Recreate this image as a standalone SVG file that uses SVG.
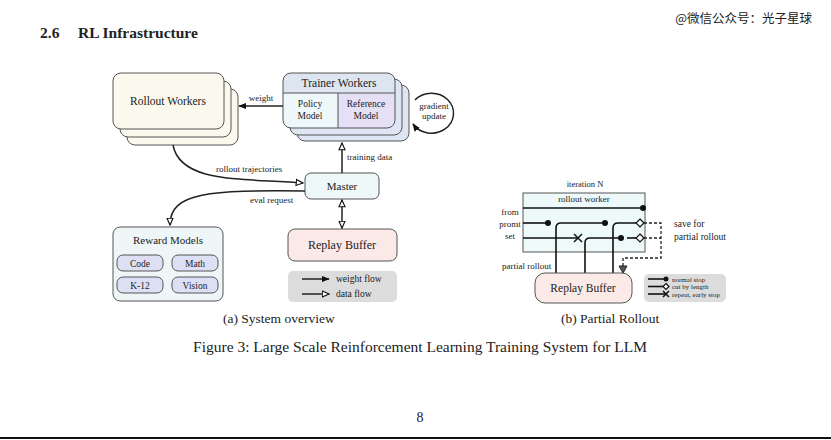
<svg xmlns="http://www.w3.org/2000/svg" width="831" height="440" viewBox="0 0 831 440">
<defs>
<style>
text{font-family:"Liberation Serif","Times New Roman",serif;fill:#222}
.box{stroke:#555;stroke-width:1}
.c{text-anchor:middle}
.conn{fill:none;stroke:#222;stroke-width:1.5}
.pl{fill:none;stroke:#111;stroke-width:1.6}
.dash{fill:none;stroke:#222;stroke-width:1.3;stroke-dasharray:3 2}
.dot{fill:#111}
.dia{fill:#fff;stroke:#111;stroke-width:1.2}
.xm{stroke:#111;stroke-width:1.5}
</style>
<marker id="af" viewBox="0 0 10 10" refX="9" refY="5" markerWidth="8" markerHeight="8" markerUnits="userSpaceOnUse" orient="auto"><path d="M0,1 L10,5 L0,9 z" fill="#111"/></marker>
<marker id="ah" viewBox="0 0 12 12" refX="10" refY="6" markerWidth="9" markerHeight="9" markerUnits="userSpaceOnUse" orient="auto-start-reverse"><path d="M1,2 L10,6 L1,10 z" fill="#fff" stroke="#111" stroke-width="1.5"/></marker>
</defs>
<rect width="831" height="440" fill="#fff"/>

<g id="header">
<text x="40" y="38" font-size="15.5" font-weight="bold">2.6</text>
<text x="78" y="38" font-size="15.5" font-weight="bold">RL Infrastructure</text>
<text x="812" y="23" font-size="12.5" text-anchor="end" style="font-family:'Noto Sans CJK SC',sans-serif" fill="#444">@微信公众号：光子星球</text>
</g>

<g id="rollout-workers">
<rect class="box" x="127" y="89" width="111" height="56" rx="8" fill="#fbf9ee"/>
<rect class="box" x="120" y="81" width="111" height="56" rx="8" fill="#fbf9ee"/>
<rect class="box" x="113" y="73" width="111" height="56" rx="8" fill="#fbf9ee"/>
<text class="c" x="168" y="105" font-size="11.5">Rollout Workers</text>
</g>

<g id="trainer-workers">
<rect class="box" x="297" y="85" width="112" height="56" rx="8" fill="#dde6f2"/>
<rect class="box" x="290" y="79" width="112" height="56" rx="8" fill="#dde6f2"/>
<path d="M338 93 H387 Q395 93 395 101 V120 Q395 128 387 128 H338 Z" fill="#e6e0f6"/>
<path d="M338 93 H283 V120 Q283 128 291 128 H338 Z" fill="#eef7f9"/>
<path d="M283 93 V81 Q283 73 291 73 H387 Q395 73 395 81 V93 Z" fill="#dde6f0"/>
<rect class="box" x="283" y="73" width="112" height="55" rx="8" fill="none"/>
<line x1="283" y1="93" x2="395" y2="93" stroke="#555"/>
<line x1="338" y1="93" x2="338" y2="128" stroke="#555"/>
<text class="c" x="339" y="87" font-size="11.5">Trainer Workers</text>
<text class="c" x="310" y="107" font-size="9.5">Policy</text>
<text class="c" x="310" y="119" font-size="9.5">Model</text>
<text class="c" x="366" y="107" font-size="9.5">Reference</text>
<text class="c" x="366" y="119" font-size="9.5">Model</text>
</g>

<g id="gradient-update">
<path class="conn" d="M415 100 A22 20 0 1 1 413 124" marker-end="url(#af)"/>
<text class="c" x="434" y="109" font-size="9">gradient</text>
<text class="c" x="434" y="119" font-size="9">update</text>
</g>

<g id="master">
<rect class="box" x="305" y="173" width="74" height="26" rx="6" fill="#eef8f8"/>
<text class="c" x="342" y="190" font-size="11">Master</text>
</g>

<g id="reward-models">
<rect class="box" x="113" y="227" width="110" height="74" rx="7" fill="#eef6f8"/>
<text class="c" x="168" y="244" font-size="11">Reward Models</text>
<rect class="box" x="117" y="255" width="46" height="16" rx="6" fill="#dde0f4"/>
<rect class="box" x="172" y="255" width="46" height="16" rx="6" fill="#dde0f4"/>
<rect class="box" x="117" y="277" width="46" height="16" rx="6" fill="#dde0f4"/>
<rect class="box" x="172" y="277" width="46" height="16" rx="6" fill="#dde0f4"/>
<text class="c" x="140" y="267" font-size="9.5">Code</text>
<text class="c" x="195" y="267" font-size="9.5">Math</text>
<text class="c" x="140" y="289" font-size="9.5">K-12</text>
<text class="c" x="195" y="289" font-size="9.5">Vision</text>
</g>

<g id="replay-buffer-a">
<rect class="box" x="288" y="229" width="109" height="32" rx="7" fill="#fbe9e7"/>
<text class="c" x="342" y="249" font-size="12">Replay Buffer</text>
</g>

<g id="legend-a">
<rect x="288" y="271" width="109" height="31" rx="5" fill="#dcdcdc"/>
<line class="conn" x1="302" y1="279" x2="329" y2="279" marker-end="url(#af)"/>
<line class="conn" x1="302" y1="294" x2="329" y2="294" marker-end="url(#ah)"/>
<text x="336" y="282" font-size="9.5">weight flow</text>
<text x="336" y="297" font-size="9.5">data flow</text>
</g>

<g id="connectors">
<line class="conn" x1="283" y1="106" x2="239" y2="106" marker-end="url(#af)"/>
<text class="c" x="261" y="101" font-size="9">weight</text>
<line class="conn" x1="342" y1="173" x2="342" y2="143" marker-end="url(#ah)"/>
<text x="347" y="160" font-size="9">training data</text>
<path class="conn" d="M173 145 C180 184 245 178 303 183" marker-end="url(#ah)"/>
<text x="216" y="172" font-size="9">rollout trajectories</text>
<path class="conn" d="M305 191 C210 190 170 192 170 225" marker-end="url(#ah)"/>
<text x="250" y="203" font-size="9">eval request</text>
<line class="conn" x1="342" y1="200" x2="342" y2="228" marker-start="url(#ah)" marker-end="url(#ah)"/>
</g>

<g id="partial-rollout">
<text class="c" x="585" y="187" font-size="8.5">iteration N</text>
<rect class="box" x="523" y="193" width="122" height="59" fill="#eef9fa"/>
<text class="c" x="584" y="202" font-size="9">rollout worker</text>
<text class="c" x="510" y="215" font-size="9">from</text>
<text class="c" x="510" y="227" font-size="9">promt</text>
<text class="c" x="510" y="239" font-size="9">set</text>
<line class="pl" x1="523" y1="208" x2="643" y2="208"/>
<circle class="dot" cx="643" cy="208" r="3"/>
<line class="pl" x1="523" y1="223" x2="548" y2="223"/>
<circle class="dot" cx="548" cy="223" r="3"/>
<path class="pl" d="M556 274 V228 Q556 223 561 223 H605"/>
<circle class="dot" cx="605" cy="223" r="3"/>
<path class="pl" d="M613 274 V228 Q613 223 618 223 H636"/>
<path class="dia" d="M640 219 L644 223 L640 227 L636 223 Z"/>
<line class="pl" x1="523" y1="238" x2="578" y2="238"/>
<path class="xm" d="M574 234 L582 242 M582 234 L574 242"/>
<path class="pl" d="M585 274 V243 Q585 238 590 238 H621"/>
<circle class="dot" cx="621" cy="238" r="3"/>
<line class="pl" x1="627" y1="238" x2="636" y2="238"/>
<path class="dia" d="M640 234 L644 238 L640 242 L636 238 Z"/>
<path class="dash" d="M644 223 H661 V258 H623 V266"/>
<line class="dash" x1="644" y1="238" x2="661" y2="238"/>
<path d="M619 266 L627 266 L623 273 Z" fill="#555" stroke="#222" stroke-width="1"/>
<text x="674" y="227" font-size="9.5">save for</text>
<text x="674" y="240" font-size="9.5">partial rollout</text>
<text x="502" y="269" font-size="9">partial rollout</text>
</g>

<g id="replay-buffer-b">
<rect class="box" x="535" y="273" width="97" height="30" rx="10" fill="#fbeae7"/>
<text class="c" x="583" y="292" font-size="11.5">Replay Buffer</text>
</g>

<g id="legend-b">
<rect x="644" y="274" width="82" height="28" rx="5" fill="#dcdcdc"/>
<line class="pl" x1="648" y1="279" x2="666" y2="279" stroke-width="1.2"/>
<circle class="dot" cx="666" cy="279" r="2.5"/>
<line class="pl" x1="648" y1="286.5" x2="663" y2="286.5" stroke-width="1.2"/>
<path class="dia" d="M666 283.5 L669 286.5 L666 289.5 L663 286.5 Z"/>
<line class="pl" x1="648" y1="294" x2="666" y2="294" stroke-width="1.2"/>
<path class="xm" d="M663 291 L669 297 M669 291 L663 297" stroke-width="1.2"/>
<text x="672" y="281.5" font-size="7">normal stop</text>
<text x="672" y="289" font-size="7">cut by length</text>
<text x="672" y="296.5" font-size="7">repeat, early stop</text>
</g>

<g id="captions">
<text x="223" y="323" font-size="13.5">(a) System overview</text>
<text x="561" y="323" font-size="13.5">(b) Partial Rollout</text>
<text class="c" x="420" y="352" font-size="15.5">Figure 3: Large Scale Reinforcement Learning Training System for LLM</text>
<text class="c" x="420" y="422" font-size="14">8</text>
</g>
<line x1="0" y1="438" x2="831" y2="438" stroke="#111" stroke-width="2"/>
</svg>
